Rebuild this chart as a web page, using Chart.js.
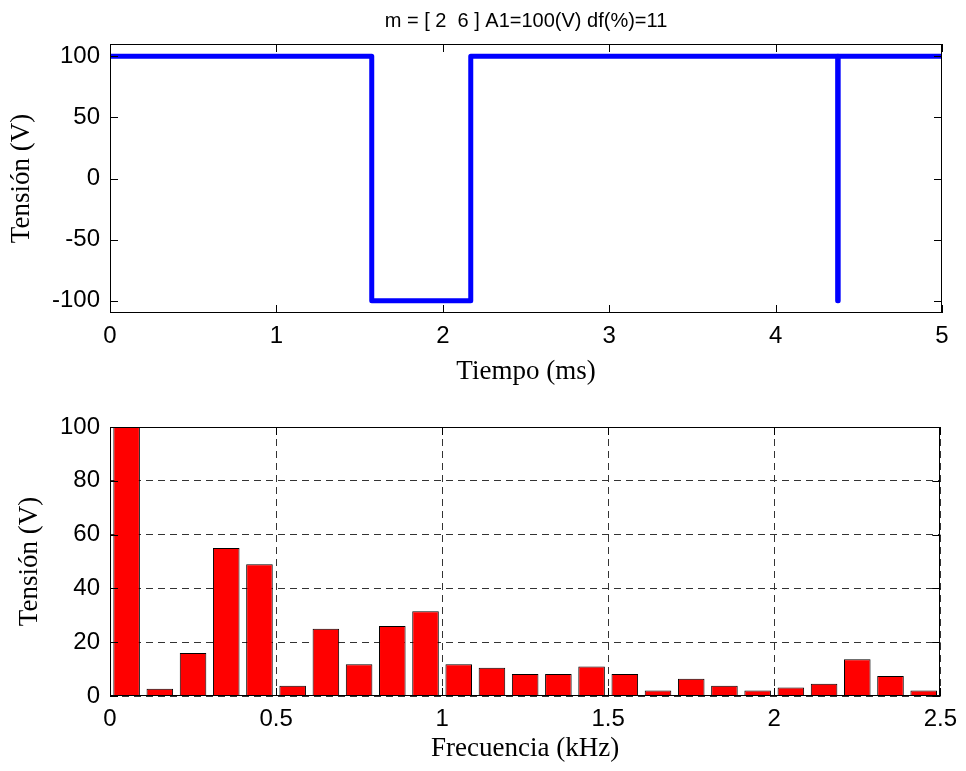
<!DOCTYPE html>
<html>
<head>
<meta charset="utf-8">
<script src="https://cdn.jsdelivr.net/npm/chart.js@4"></script>
<style>
  body { margin: 0; background: #fff; }
  canvas { position: absolute; left: 0; }
  #c1 { top: 0; }
  #c2 { top: 390px; }
</style>
</head>
<body>
<canvas id="c1" width="966" height="390"></canvas>
<canvas id="c2" width="966" height="381"></canvas>
<script>
// top plot: voltage vs time
var tiempo  = [0, 1.573, 1.573, 2.168, 2.168, 4.373, 4.373, 4.376, 4.376, 5];
var tension = [100, 100, -100, -100, 100, 100, -100, -100, 100, 100];
var ticksTiempo = [0, 1, 2, 3, 4, 5];
var ticksTension = [-100, -50, 0, 50, 100];

// bottom plot: spectrum
var frecuencia = [0.05, 0.15, 0.25, 0.35, 0.45, 0.55, 0.65, 0.75, 0.85, 0.95,
                  1.05, 1.15, 1.25, 1.35, 1.45, 1.55, 1.65, 1.75, 1.85, 1.95,
                  2.05, 2.15, 2.25, 2.35, 2.45];
var amplitud = [100, 2.7, 16, 55, 49, 3.8, 25, 11.8, 26, 31.5,
                11.8, 10.5, 8.2, 8.2, 11, 8.2, 2, 6.4, 3.8, 2,
                3.2, 4.6, 13.7, 7.4, 2];
var ticksFrec = [0, 0.5, 1, 1.5, 2, 2.5];
var ticksAmp = [0, 20, 40, 60, 80, 100];

var sansTick = { family: 'Liberation Sans, Arial, sans-serif', size: 24 };
var serifTitle = { family: 'Liberation Serif, Times New Roman, serif', size: 27 };

// matlab style box with inward ticks
var boxTicks = {
  id: 'boxTicks',
  afterDraw: function(chart) {
    var ctx = chart.ctx, a = chart.chartArea;
    var x = chart.scales.x, y = chart.scales.y;
    ctx.save();
    ctx.strokeStyle = '#000';
    ctx.lineWidth = 1;
    ctx.beginPath();
    x.ticks.forEach(function(t) {
      var px = Math.round(x.getPixelForValue(t.value)) + 0.5;
      ctx.moveTo(px, a.bottom); ctx.lineTo(px, a.bottom - 8);
      ctx.moveTo(px, a.top); ctx.lineTo(px, a.top + 8);
    });
    y.ticks.forEach(function(t) {
      var py = Math.round(y.getPixelForValue(t.value)) + 0.5;
      ctx.moveTo(a.left, py); ctx.lineTo(a.left + 8, py);
      ctx.moveTo(a.right, py); ctx.lineTo(a.right - 8, py);
    });
    ctx.stroke();
    ctx.strokeRect(Math.round(a.left) + 0.5, Math.round(a.top) + 0.5,
                   Math.round(a.width) - 1, Math.round(a.height) - 1);
    ctx.restore();
  }
};

function setTicks(arr) {
  return function(scale) {
    scale.ticks = arr.map(function(v) { return { value: v }; });
  };
}

var pts1 = tiempo.map(function(t, i) { return { x: t, y: tension[i] }; });

var chart1 = new Chart(document.getElementById('c1'), {
  type: 'line',
  data: {
    datasets: [{
      data: pts1,
      borderColor: '#0000FF',
      borderWidth: 5,
      borderJoinStyle: 'round',
      borderCapStyle: 'round',
      pointRadius: 0,
      tension: 0,
      fill: false
    }]
  },
  options: {
    responsive: false,
    animation: false,
    layout: { padding: { left: 0, right: 24, top: 0, bottom: 0 } },
    plugins: {
      legend: { display: false },
      tooltip: { enabled: false },
      title: {
        display: true,
        fullSize: false,
        text: 'm = [ 2  6 ] A1=100(V) df(%)=11',
        color: '#000',
        font: { family: 'Liberation Sans, Arial, sans-serif', size: 20, weight: 'normal' },
        padding: { top: 9, bottom: 11 }
      }
    },
    scales: {
      x: {
        type: 'linear',
        min: 0, max: 5,
        afterBuildTicks: setTicks(ticksTiempo),
        afterFit: function(s) { s.height = 77; },
        grid: { display: false, drawTicks: false },
        border: { display: false },
        ticks: { color: '#000', font: sansTick, padding: 9, maxRotation: 0 },
        title: { display: true, text: 'Tiempo (ms)', color: '#000', font: serifTitle, padding: { top: 0, bottom: 2 } }
      },
      y: {
        min: -110, max: 110,
        afterBuildTicks: setTicks(ticksTension),
        afterFit: function(s) { s.width = 110; },
        grid: { display: false, drawTicks: false },
        border: { display: false },
        ticks: { color: '#000', font: sansTick, padding: 10 },
        title: { display: true, text: 'Tensión (V)', color: '#000', font: serifTitle, padding: { top: 6, bottom: 0 } }
      }
    }
  },
  plugins: [boxTicks]
});

var pts2 = frecuencia.map(function(f, i) { return { x: f, y: amplitud[i] }; });

var chart2 = new Chart(document.getElementById('c2'), {
  type: 'bar',
  data: {
    datasets: [{
      data: pts2,
      backgroundColor: '#FF0000',
      borderColor: '#000',
      borderWidth: 1,
      categoryPercentage: 1,
      barPercentage: 0.8
    }]
  },
  options: {
    responsive: false,
    animation: false,
    layout: { padding: { left: 0, right: 24, top: 37, bottom: 0 } },
    plugins: {
      legend: { display: false },
      tooltip: { enabled: false }
    },
    scales: {
      x: {
        type: 'linear',
        min: 0, max: 2.5,
        offset: false,
        afterBuildTicks: setTicks(ticksFrec),
        afterFit: function(s) { s.height = 75; },
        grid: { display: true, offset: false, drawTicks: false, color: '#333', lineWidth: 1 },
        border: { display: false, dash: [7, 5] },
        ticks: { color: '#000', font: sansTick, padding: 9, maxRotation: 0,
                 callback: function(v) { return String(v); } },
        title: { display: true, text: 'Frecuencia (kHz)', color: '#000', font: serifTitle, padding: { top: 0, bottom: 6 } }
      },
      y: {
        min: 0, max: 100,
        afterBuildTicks: setTicks(ticksAmp),
        afterFit: function(s) { s.width = 110; },
        grid: { display: true, drawTicks: false, color: '#333', lineWidth: 1 },
        border: { display: false, dash: [7, 5] },
        ticks: { color: '#000', font: sansTick, padding: 10 },
        title: { display: true, text: 'Tensión (V)', color: '#000', font: serifTitle, padding: { top: 14, bottom: 0 } }
      }
    }
  },
  plugins: [boxTicks]
});
</script>
</body>
</html>
